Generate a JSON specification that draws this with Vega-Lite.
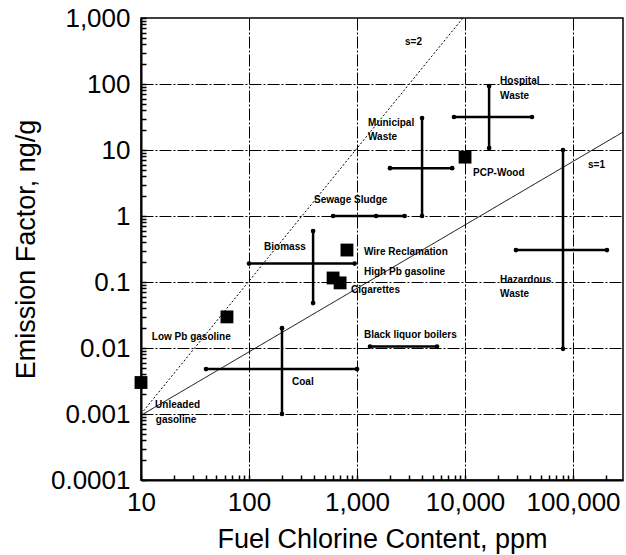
{
  "$schema": "https://vega.github.io/schema/vega-lite/v6.json",
  "width": 482,
  "height": 462,
  "autosize": {"type": "none"},
  "padding": {"left": 141, "top": 18, "right": 3, "bottom": 75},
  "background": "white",
  "config": {
    "view": {"stroke": "black", "strokeWidth": 1.5},
    "font": "Liberation Sans",
    "axis": {
      "domainColor": "black",
      "domainWidth": 2,
      "tickColor": "black",
      "tickWidth": 1.5,
      "tickSize": -5,
      "labelColor": "black",
      "titleColor": "black",
      "labelFont": "Liberation Sans",
      "titleFont": "Liberation Sans",
      "labelFontSize": 26,
      "titleFontSize": 27,
      "titleFontWeight": "normal",
      "gridColor": "black",
      "gridWidth": 1,
      "gridDash": [12, 2, 2, 2]
    }
  },
  "datasets": {
    "bars": [
      {"item": "Biomass", "x1": 392, "x2": 392, "y1": 0.59, "y2": 0.048},
      {"item": "Biomass", "x1": 100, "x2": 950, "y1": 0.19, "y2": 0.19},
      {"item": "Coal", "x1": 202, "x2": 202, "y1": 0.02, "y2": 0.001},
      {"item": "Coal", "x1": 40, "x2": 1000, "y1": 0.0048, "y2": 0.0048},
      {"item": "Sewage Sludge", "x1": 600, "x2": 2760, "y1": 1.0, "y2": 1.0},
      {"item": "Municipal Waste", "x1": 4000, "x2": 4000, "y1": 30.5, "y2": 1.0},
      {"item": "Municipal Waste", "x1": 2020, "x2": 7600, "y1": 5.3, "y2": 5.3},
      {"item": "Hospital Waste", "x1": 16700, "x2": 16700, "y1": 93, "y2": 10.7},
      {"item": "Hospital Waste", "x1": 7900, "x2": 41700, "y1": 31.6, "y2": 31.6},
      {"item": "Hazardous Waste", "x1": 80700, "x2": 80700, "y1": 10, "y2": 0.0097},
      {"item": "Hazardous Waste", "x1": 29600, "x2": 206000, "y1": 0.305, "y2": 0.305},
      {"item": "Black liquor boilers", "x1": 1320, "x2": 5500, "y1": 0.0105, "y2": 0.0105}
    ],
    "centers": [
      {"item": "Sewage Sludge", "x": 1500, "y": 1.0}
    ],
    "squares": [
      {"item": "Unleaded gasoline", "x": 10, "y": 0.003},
      {"item": "Low Pb gasoline", "x": 62.5, "y": 0.0296},
      {"item": "Wire Reclamation", "x": 807, "y": 0.305},
      {"item": "High Pb gasoline", "x": 600, "y": 0.115},
      {"item": "Cigarettes", "x": 697, "y": 0.097},
      {"item": "PCP-Wood", "x": 10000, "y": 7.8}
    ],
    "lines": [
      {"line": "s=2", "x": 10, "y": 0.001},
      {"line": "s=2", "x": 9550, "y": 1000},
      {"line": "s=1", "x": 10.5, "y": 0.001},
      {"line": "s=1", "x": 290000, "y": 18.7}
    ],
    "labels": [
      {"text": "s=2", "x": 2780, "y": 433},
      {"text": "s=1", "x": 137700, "y": 5.93},
      {"text": "Hospital", "x": 21100, "y": 111},
      {"text": "Waste", "x": 21100, "y": 65.8},
      {"text": "Municipal", "x": 1265, "y": 25.6},
      {"text": "Waste", "x": 1265, "y": 15.7},
      {"text": "PCP-Wood", "x": 11860, "y": 4.49},
      {"text": "Sewage Sludge", "x": 400, "y": 1.75},
      {"text": "Biomass", "x": 138, "y": 0.339},
      {"text": "Wire Reclamation", "x": 1160, "y": 0.285},
      {"text": "High Pb gasoline", "x": 1160, "y": 0.142},
      {"text": "Cigarettes", "x": 880, "y": 0.0757},
      {"text": "Hazardous", "x": 21100, "y": 0.107},
      {"text": "Waste", "x": 21100, "y": 0.0658},
      {"text": "Low Pb gasoline", "x": 12.6, "y": 0.0147},
      {"text": "Black liquor boilers", "x": 1160, "y": 0.0157},
      {"text": "Coal", "x": 250, "y": 0.00305},
      {"text": "Unleaded", "x": 13.5, "y": 0.00137},
      {"text": "gasoline", "x": 13.7, "y": 0.00081}
    ]
  },
  "layer": [
    {
      "data": {"name": "lines"},
      "mark": {"type": "line", "color": "black", "strokeWidth": 1},
      "encoding": {
        "x": {
          "field": "x", "type": "quantitative",
          "scale": {"type": "log", "domain": [10, 290000], "nice": false},
          "axis": {
            "title": "Fuel Chlorine Content, ppm",
            "titlePadding": 11,
            "labelPadding": 14,
            "labelFlush": false,
            "values": [10,20,30,40,50,60,70,80,90,100,200,300,400,500,600,700,800,900,1000,2000,3000,4000,5000,6000,7000,8000,9000,10000,20000,30000,40000,50000,60000,70000,80000,90000,100000,200000],
            "labelExpr": "abs(log(datum.value)/LN10 - round(log(datum.value)/LN10)) < 0.000001 ? format(datum.value, ',') : ''",
            "gridOpacity": {"condition": {"test": "abs(log(datum.value)/LN10 - round(log(datum.value)/LN10)) < 0.000001 && datum.value > 10", "value": 1}, "value": 0}
          }
        },
        "y": {
          "field": "y", "type": "quantitative",
          "scale": {"type": "log", "domain": [0.0001, 1000], "nice": false},
          "axis": {
            "title": "Emission Factor, ng/g",
            "titlePadding": 10,
            "labelPadding": 16,
            "labelFlush": false,
            "values": [0.0001,0.0002,0.0003,0.0004,0.0005,0.0006,0.0007,0.0008,0.0009,0.001,0.002,0.003,0.004,0.005,0.006,0.007,0.008,0.009,0.01,0.02,0.03,0.04,0.05,0.06,0.07,0.08,0.09,0.1,0.2,0.3,0.4,0.5,0.6,0.7,0.8,0.9,1,2,3,4,5,6,7,8,9,10,20,30,40,50,60,70,80,90,100,200,300,400,500,600,700,800,900,1000],
            "labelExpr": "abs(log(datum.value)/LN10 - round(log(datum.value)/LN10)) < 0.000001 ? format(datum.value, ',') : ''",
            "gridOpacity": {"condition": {"test": "abs(log(datum.value)/LN10 - round(log(datum.value)/LN10)) < 0.000001 && datum.value > 0.0002 && datum.value < 999", "value": 1}, "value": 0}
          }
        },
        "detail": {"field": "line"},
        "strokeDash": {"field": "line", "type": "nominal", "scale": {"domain": ["s=2", "s=1"], "range": [[2, 2], [1, 0]]}, "legend": null}
      }
    },
    {
      "data": {"name": "bars"},
      "mark": {"type": "rule", "color": "black", "strokeWidth": 2.5},
      "encoding": {
        "x": {"field": "x1", "type": "quantitative"},
        "x2": {"field": "x2"},
        "y": {"field": "y1", "type": "quantitative"},
        "y2": {"field": "y2"}
      }
    },
    {
      "data": {"name": "bars"},
      "mark": {"type": "point", "filled": true, "color": "black", "size": 22, "opacity": 1},
      "encoding": {
        "x": {"field": "x1", "type": "quantitative"},
        "y": {"field": "y1", "type": "quantitative"}
      }
    },
    {
      "data": {"name": "bars"},
      "mark": {"type": "point", "filled": true, "color": "black", "size": 22, "opacity": 1},
      "encoding": {
        "x": {"field": "x2", "type": "quantitative"},
        "y": {"field": "y2", "type": "quantitative"}
      }
    },
    {
      "data": {"name": "centers"},
      "mark": {"type": "point", "filled": true, "color": "black", "size": 22, "opacity": 1},
      "encoding": {
        "x": {"field": "x", "type": "quantitative"},
        "y": {"field": "y", "type": "quantitative"}
      }
    },
    {
      "data": {"name": "squares"},
      "mark": {"type": "point", "shape": "square", "filled": true, "color": "black", "size": 165, "opacity": 1},
      "encoding": {
        "x": {"field": "x", "type": "quantitative"},
        "y": {"field": "y", "type": "quantitative"}
      }
    },
    {
      "data": {"name": "labels"},
      "mark": {"type": "text", "align": "left", "baseline": "middle", "font": "Liberation Sans", "fontWeight": "bold", "fontSize": 10, "color": "black"},
      "encoding": {
        "x": {"field": "x", "type": "quantitative"},
        "y": {"field": "y", "type": "quantitative"},
        "text": {"field": "text"}
      }
    }
  ]
}
